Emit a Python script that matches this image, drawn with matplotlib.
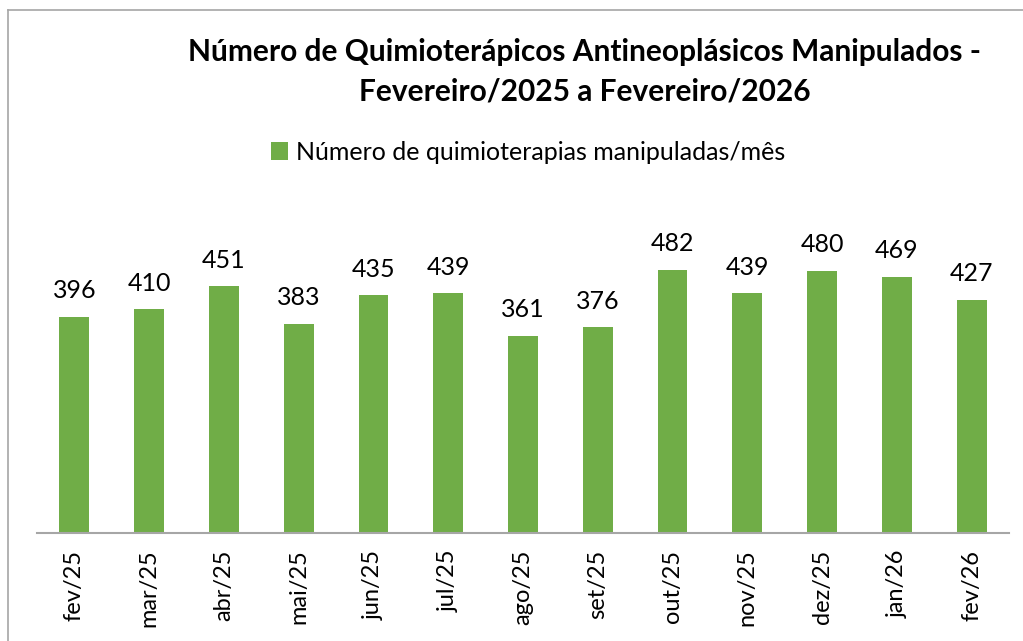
import matplotlib
matplotlib.use('Agg')
import matplotlib.pyplot as plt
from matplotlib.lines import Line2D
from matplotlib.patches import Patch

meses = ['fev/25', 'mar/25', 'abr/25', 'mai/25', 'jun/25', 'jul/25', 'ago/25',
         'set/25', 'out/25', 'nov/25', 'dez/25', 'jan/26', 'fev/26']
quimioterapias = [396, 410, 451, 383, 435, 439, 361, 376, 482, 439, 480, 469, 427]

verde = '#70AD47'
plt.rcParams['font.family'] = ['Lato', 'DejaVu Sans']

fig = plt.figure(figsize=(10.23, 6.41), dpi=100)
W, H = 1023, 641
ax = fig.add_axes([37 / W, (H - 533) / H, (1009 - 37) / W, (533 - 205) / H])

x = range(len(meses))
barras = ax.bar(x, quimioterapias, width=0.4, color=verde, zorder=2)
for xi, v in zip(x, quimioterapias):
    ax.text(xi, v + 26, str(v), ha='center', va='bottom', fontsize=18)

ax.set_xlim(-0.5, len(meses) - 0.5)
ax.set_ylim(0, 600)
ax.set_xticks(list(x))
ax.set_xticklabels(meses, rotation=90, fontsize=17)
ax.tick_params(axis='x', length=0, pad=12)
ax.set_yticks([])
for s in ['top', 'right', 'left']:
    ax.spines[s].set_visible(False)
ax.spines['bottom'].set_color('#A6A6A6')
ax.spines['bottom'].set_linewidth(1.5)

# titulo
fig.text(585 / W, 1 - 52 / H, 'Número de Quimioterápicos Antineoplásicos Manipulados -',
         ha='center', va='center', fontsize=21.5, fontweight='bold')
fig.text(585 / W, 1 - 92 / H, 'Fevereiro/2025 a Fevereiro/2026',
         ha='center', va='center', fontsize=21.5, fontweight='bold')

# legenda
fig.legend(handles=[Patch(facecolor=verde, label='Número de quimioterapias manipuladas/mês')],
           loc='center', bbox_to_anchor=(528 / W, 1 - 152 / H), frameon=False,
           fontsize=18, handlelength=0.7, handleheight=0.7, handletextpad=0.3)

# borda do grafico
fig.add_artist(Line2D([8 / W, 8 / W], [0, 1 - 10 / H], color='#A6A6A6', lw=1.2))
fig.add_artist(Line2D([8 / W, 1], [1 - 10 / H, 1 - 10 / H], color='#A6A6A6', lw=1.2))

fig.savefig('out.png', dpi=100)
